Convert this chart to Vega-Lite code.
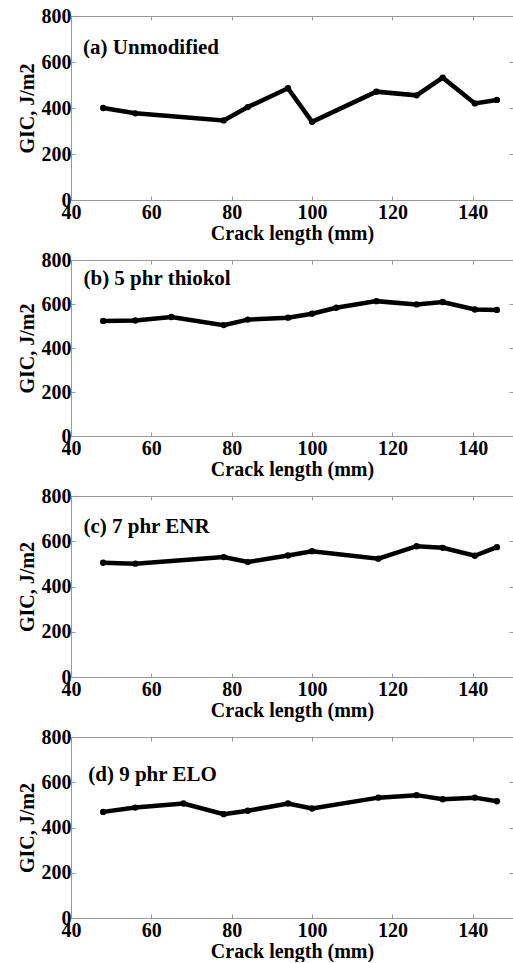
{
  "$schema": "https://vega.github.io/schema/vega-lite/v6.json",
  "padding": {"left": 16, "top": 5, "right": 0, "bottom": 0},
  "background": "white",
  "data": {"values": [
    {"panel": "a", "crack": 48, "gic": 400},
    {"panel": "a", "crack": 56, "gic": 377},
    {"panel": "a", "crack": 78, "gic": 346},
    {"panel": "a", "crack": 84, "gic": 404},
    {"panel": "a", "crack": 94, "gic": 486},
    {"panel": "a", "crack": 100, "gic": 340},
    {"panel": "a", "crack": 116, "gic": 471},
    {"panel": "a", "crack": 126, "gic": 455},
    {"panel": "a", "crack": 132.5, "gic": 532},
    {"panel": "a", "crack": 140.5, "gic": 420},
    {"panel": "a", "crack": 146, "gic": 435},
    {"panel": "b", "crack": 48, "gic": 523},
    {"panel": "b", "crack": 56, "gic": 525},
    {"panel": "b", "crack": 65, "gic": 541},
    {"panel": "b", "crack": 78, "gic": 504},
    {"panel": "b", "crack": 84, "gic": 529},
    {"panel": "b", "crack": 94, "gic": 538},
    {"panel": "b", "crack": 100, "gic": 556},
    {"panel": "b", "crack": 106, "gic": 583},
    {"panel": "b", "crack": 116, "gic": 613},
    {"panel": "b", "crack": 126, "gic": 598},
    {"panel": "b", "crack": 132.5, "gic": 609},
    {"panel": "b", "crack": 140.5, "gic": 575},
    {"panel": "b", "crack": 146, "gic": 573},
    {"panel": "c", "crack": 48, "gic": 505},
    {"panel": "c", "crack": 56, "gic": 501},
    {"panel": "c", "crack": 78, "gic": 530},
    {"panel": "c", "crack": 84, "gic": 508},
    {"panel": "c", "crack": 94, "gic": 537},
    {"panel": "c", "crack": 100, "gic": 556},
    {"panel": "c", "crack": 116.5, "gic": 523},
    {"panel": "c", "crack": 126, "gic": 578},
    {"panel": "c", "crack": 132.5, "gic": 571},
    {"panel": "c", "crack": 140.5, "gic": 536},
    {"panel": "c", "crack": 146, "gic": 574},
    {"panel": "d", "crack": 48, "gic": 469},
    {"panel": "d", "crack": 56, "gic": 488},
    {"panel": "d", "crack": 68, "gic": 506},
    {"panel": "d", "crack": 78, "gic": 459},
    {"panel": "d", "crack": 84, "gic": 474},
    {"panel": "d", "crack": 94, "gic": 506},
    {"panel": "d", "crack": 100, "gic": 484},
    {"panel": "d", "crack": 116.5, "gic": 532},
    {"panel": "d", "crack": 126, "gic": 543},
    {"panel": "d", "crack": 132.5, "gic": 525},
    {"panel": "d", "crack": 140.5, "gic": 532},
    {"panel": "d", "crack": 146, "gic": 516}
  ]},
  "spacing": 5,
  "config": {
    "font": "Liberation Serif",
    "view": {"stroke": "#999", "strokeWidth": 1},
    "axis": {
      "grid": false,
      "domainColor": "#999",
      "tickColor": "#999",
      "tickSize": -4,
      "labelFont": "Liberation Serif",
      "labelFontSize": 20,
      "labelFontWeight": "bold",
      "labelColor": "black",
      "labelFlush": false,
      "labelOverlap": false,
      "titleFont": "Liberation Serif",
      "titleFontSize": 20,
      "titleFontWeight": "bold",
      "titleColor": "black"
    }
  },
  "vconcat": [
    {
      "width": 442, "height": 184,
      "layer": [
        {
          "transform": [{"filter": "datum.panel == 'a'"}],
          "mark": {"type": "line", "color": "black", "strokeWidth": 4.5, "point": {"filled": true, "color": "black", "size": 40}},
          "encoding": {
            "x": {"field": "crack", "type": "quantitative", "scale": {"domain": [40, 150], "nice": false, "zero": false},
                  "axis": {"orient": "bottom", "values": [40, 60, 80, 100, 120, 140], "title": "Crack length (mm)", "labelPadding": 6, "titlePadding": 1}},
            "y": {"field": "gic", "type": "quantitative", "scale": {"domain": [0, 800], "nice": false},
                  "axis": {"orient": "left", "values": [0, 200, 400, 600, 800], "title": "GIC, J/m2", "labelPadding": 4, "titlePadding": 4}}
          }
        },
        {
          "data": {"values": [{"label": "(a) Unmodified"}]},
          "mark": {"type": "text", "align": "left", "baseline": "alphabetic", "fontSize": 21, "fontWeight": "bold", "font": "Liberation Serif", "color": "black"},
          "encoding": {
            "text": {"field": "label"},
            "x": {"datum": 43.0, "type": "quantitative", "axis": {"orient": "top", "values": [40, 60, 80, 100, 120, 140], "labels": false, "title": null}},
            "y": {"datum": 633, "type": "quantitative", "axis": {"orient": "right", "values": [0, 200, 400, 600, 800], "labels": false, "title": null}}
          }
        }
      ],
      "resolve": {"axis": {"x": "independent", "y": "independent"}}
    },
    {
      "width": 442, "height": 176,
      "layer": [
        {
          "transform": [{"filter": "datum.panel == 'b'"}],
          "mark": {"type": "line", "color": "black", "strokeWidth": 4.5, "point": {"filled": true, "color": "black", "size": 40}},
          "encoding": {
            "x": {"field": "crack", "type": "quantitative", "scale": {"domain": [40, 150], "nice": false, "zero": false},
                  "axis": {"orient": "bottom", "values": [40, 60, 80, 100, 120, 140], "title": "Crack length (mm)", "labelPadding": 6, "titlePadding": 1}},
            "y": {"field": "gic", "type": "quantitative", "scale": {"domain": [0, 800], "nice": false},
                  "axis": {"orient": "left", "values": [0, 200, 400, 600, 800], "title": "GIC, J/m2", "labelPadding": 4, "titlePadding": 4}}
          }
        },
        {
          "data": {"values": [{"label": "(b) 5 phr thiokol"}]},
          "mark": {"type": "text", "align": "left", "baseline": "alphabetic", "fontSize": 21, "fontWeight": "bold", "font": "Liberation Serif", "color": "black"},
          "encoding": {
            "text": {"field": "label"},
            "x": {"datum": 43.1, "type": "quantitative", "axis": {"orient": "top", "values": [40, 60, 80, 100, 120, 140], "labels": false, "title": null}},
            "y": {"datum": 686, "type": "quantitative", "axis": {"orient": "right", "values": [0, 200, 400, 600, 800], "labels": false, "title": null}}
          }
        }
      ],
      "resolve": {"axis": {"x": "independent", "y": "independent"}}
    },
    {
      "width": 442, "height": 181,
      "layer": [
        {
          "transform": [{"filter": "datum.panel == 'c'"}],
          "mark": {"type": "line", "color": "black", "strokeWidth": 4.5, "point": {"filled": true, "color": "black", "size": 40}},
          "encoding": {
            "x": {"field": "crack", "type": "quantitative", "scale": {"domain": [40, 150], "nice": false, "zero": false},
                  "axis": {"orient": "bottom", "values": [40, 60, 80, 100, 120, 140], "title": "Crack length (mm)", "labelPadding": 6, "titlePadding": 1}},
            "y": {"field": "gic", "type": "quantitative", "scale": {"domain": [0, 800], "nice": false},
                  "axis": {"orient": "left", "values": [0, 200, 400, 600, 800], "title": "GIC, J/m2", "labelPadding": 4, "titlePadding": 4}}
          }
        },
        {
          "data": {"values": [{"label": "(c) 7 phr ENR"}]},
          "mark": {"type": "text", "align": "left", "baseline": "alphabetic", "fontSize": 21, "fontWeight": "bold", "font": "Liberation Serif", "color": "black"},
          "encoding": {
            "text": {"field": "label"},
            "x": {"datum": 43.1, "type": "quantitative", "axis": {"orient": "top", "values": [40, 60, 80, 100, 120, 140], "labels": false, "title": null}},
            "y": {"datum": 635, "type": "quantitative", "axis": {"orient": "right", "values": [0, 200, 400, 600, 800], "labels": false, "title": null}}
          }
        }
      ],
      "resolve": {"axis": {"x": "independent", "y": "independent"}}
    },
    {
      "width": 442, "height": 181,
      "layer": [
        {
          "transform": [{"filter": "datum.panel == 'd'"}],
          "mark": {"type": "line", "color": "black", "strokeWidth": 4.5, "point": {"filled": true, "color": "black", "size": 40}},
          "encoding": {
            "x": {"field": "crack", "type": "quantitative", "scale": {"domain": [40, 150], "nice": false, "zero": false},
                  "axis": {"orient": "bottom", "values": [40, 60, 80, 100, 120, 140], "title": "Crack length (mm)", "labelPadding": 6, "titlePadding": 1}},
            "y": {"field": "gic", "type": "quantitative", "scale": {"domain": [0, 800], "nice": false},
                  "axis": {"orient": "left", "values": [0, 200, 400, 600, 800], "title": "GIC, J/m2", "labelPadding": 4, "titlePadding": 4}}
          }
        },
        {
          "data": {"values": [{"label": "(d) 9 phr ELO"}]},
          "mark": {"type": "text", "align": "left", "baseline": "alphabetic", "fontSize": 21, "fontWeight": "bold", "font": "Liberation Serif", "color": "black"},
          "encoding": {
            "text": {"field": "label"},
            "x": {"datum": 44.3, "type": "quantitative", "axis": {"orient": "top", "values": [40, 60, 80, 100, 120, 140], "labels": false, "title": null}},
            "y": {"datum": 604, "type": "quantitative", "axis": {"orient": "right", "values": [0, 200, 400, 600, 800], "labels": false, "title": null}}
          }
        }
      ],
      "resolve": {"axis": {"x": "independent", "y": "independent"}}
    }
  ]
}
